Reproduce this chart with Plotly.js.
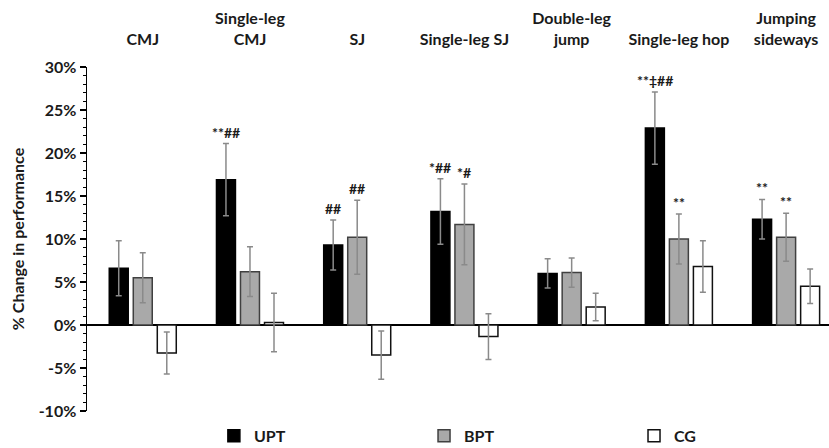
<!DOCTYPE html>
<html>
<head>
<meta charset="utf-8">
<script src="https://cdn.plot.ly/plotly-3.0.1.min.js"></script>
<style>html,body{margin:0;padding:0;background:#fff;}#chart{width:829px;height:448px;}</style>
</head>
<body>
<div id="chart"></div>
<script>
// ---- data ----
var categories = ["CMJ", "Single-leg<br>CMJ", "SJ", "Single-leg SJ", "Double-leg<br>jump", "Single-leg hop", "Jumping<br>sideways"];
var uptValues = [6.6, 16.9, 9.3, 13.2, 6.0, 22.9, 12.3];
var uptErrors = [3.2, 4.2, 2.9, 3.8, 1.7, 4.2, 2.3];
var bptValues = [5.5, 6.2, 10.2, 11.7, 6.1, 10.0, 10.2];
var bptErrors = [2.9, 2.9, 4.3, 4.7, 1.7, 2.9, 2.8];
var cgValues = [-3.25, 0.3, -3.5, -1.35, 2.1, 6.8, 4.5];
var cgErrors = [2.45, 3.4, 2.8, 2.65, 1.6, 3.0, 2.0];
var uptMarks = ["", "**##", "##", "*##", "", "**‡##", "**"];
var bptMarks = ["", "", "##", "*#", "", "**", "**"];
var yTickVals = [-10, -5, 0, 5, 10, 15, 20, 25, 30];
var yTickText = ["-10%", "-5%", "0%", "5%", "10%", "15%", "20%", "25%", "30%"];

// ---- styling ----
var FONT = "Lato, 'Open Sans', sans-serif";
var TXT = "#1a1a1a";
var BW = 0.177, STEP = 0.224;
var errStyle = function (arr) {
  return {type: "data", array: arr, visible: true, color: "#8a8a8a", thickness: 1.5, width: 3};
};

var traces = [
  {type: "bar", name: "UPT", legend: "legend", x: categories, y: uptValues, width: BW, offset: -STEP - BW / 2,
   marker: {color: "#000000", line: {color: "#000000", width: 1.5}}, error_y: errStyle(uptErrors)},
  {type: "bar", name: "BPT", legend: "legend2", x: categories, y: bptValues, width: BW, offset: -BW / 2,
   marker: {color: "#a9a9a9", line: {color: "#404040", width: 1.5}}, error_y: errStyle(bptErrors)},
  {type: "bar", name: "CG", legend: "legend3", x: categories, y: cgValues, width: BW, offset: STEP - BW / 2,
   marker: {color: "#ffffff", line: {color: "#111111", width: 1.5}}, error_y: errStyle(cgErrors)}
];

var annotations = [];
function addMarks(marks, vals, errs, shift) {
  marks.forEach(function (m, i) {
    if (!m) return;
    annotations.push({x: i + shift, xref: "x", y: vals[i] + errs[i], yref: "y", text: m,
      showarrow: false, yanchor: "bottom", yshift: 1,
      font: {family: FONT, size: 14, color: TXT, weight: "bold"}});
  });
}
addMarks(uptMarks, uptValues, uptErrors, -STEP);
addMarks(bptMarks, bptValues, bptErrors, 0);

function legendAt(x) {
  return {orientation: "h", xref: "container", yref: "container", x: x, xanchor: "left",
    y: 0.027, yanchor: "middle",
    font: {family: FONT, size: 16, color: TXT, weight: "bold"}, bgcolor: "rgba(0,0,0,0)", borderwidth: 0};
}

var layout = {
  width: 829, height: 448,
  margin: {l: 87, r: 0, t: 67, b: 37},
  paper_bgcolor: "#ffffff", plot_bgcolor: "#ffffff",
  barmode: "overlay",
  font: {family: FONT, color: TXT, size: 16, weight: "bold"},
  showlegend: true,
  legend: legendAt(0.258),
  legend2: legendAt(0.5115),
  legend3: legendAt(0.7648),
  xaxis: {type: "category", side: "top", range: [-0.52, 6.40], showgrid: false, zeroline: false,
    showline: false, ticks: "outside", ticklen: 15, tickcolor: "rgba(0,0,0,0)",
    tickfont: {family: FONT, size: 16, color: TXT, weight: "bold"}, fixedrange: true},
  yaxis: {range: [-10, 30], tickvals: yTickVals, ticktext: yTickText, showgrid: false,
    zeroline: true, zerolinecolor: "#000000", zerolinewidth: 1.5,
    showline: true, linecolor: "#000000", linewidth: 1.5,
    ticks: "outside", ticklen: 6, tickwidth: 1.2, tickcolor: "#000000",
    minor: {dtick: 1, ticks: "outside", ticklen: 3, tickwidth: 1, tickcolor: "#000000"},
    tickfont: {family: FONT, size: 16, color: TXT, weight: "bold"},
    title: {text: "% Change in performance", standoff: 10,
      font: {family: FONT, size: 16, color: TXT, weight: "bold"}}},
  annotations: annotations
};

Plotly.newPlot("chart", traces, layout, {displayModeBar: false, staticPlot: true});
</script>
</body>
</html>
